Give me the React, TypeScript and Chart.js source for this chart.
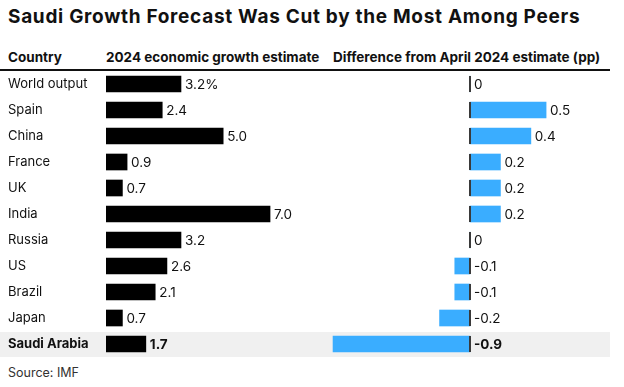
import React, { useEffect, useRef } from "react";
import { Chart, registerables } from "chart.js";

Chart.register(...registerables);

const countries = ["World output", "Spain", "China", "France", "UK", "India", "Russia", "US", "Brazil", "Japan", "Saudi Arabia"];
const growth2024 = [3.2, 2.4, 5.0, 0.9, 0.7, 7.0, 3.2, 2.6, 2.1, 0.7, 1.7];
const diffFromApril = [0, 0.5, 0.4, 0.2, 0.2, 0.2, 0, -0.1, -0.1, -0.2, -0.9];
const growthLabels = ["3.2%", "2.4", "5.0", "0.9", "0.7", "7.0", "3.2", "2.6", "2.1", "0.7", "1.7"];
const diffLabels = ["0", "0.5", "0.4", "0.2", "0.2", "0.2", "0", "-0.1", "-0.1", "-0.2", "-0.9"];

const FONT = "Inter, 'Liberation Sans', Arial, sans-serif";
const HIGHLIGHT = 10;
const BLUE = "#3aadff";

export default function App() {
  const leftRef = useRef<HTMLCanvasElement>(null);
  const rightRef = useRef<HTMLCanvasElement>(null);

  useEffect(() => {
    const leftLabels = {
      id: "leftLabels",
      afterDatasetsDraw(chart: any) {
        const ctx = chart.ctx;
        const meta = chart.getDatasetMeta(0);
        ctx.save();
        ctx.textBaseline = "middle";
        ctx.textAlign = "left";
        ctx.fillStyle = "#111";
        meta.data.forEach((bar: any, i: number) => {
          ctx.font = `${i === HIGHLIGHT ? "bold " : ""}13.5px ${FONT}`;
          ctx.fillText(growthLabels[i], bar.x + 4, bar.y + 1);
        });
        ctx.restore();
      },
    };
    const rightLabels = {
      id: "rightLabels",
      afterDatasetsDraw(chart: any) {
        const ctx = chart.ctx;
        const meta = chart.getDatasetMeta(0);
        const zero = chart.scales.x.getPixelForValue(0);
        ctx.save();
        meta.data.forEach((bar: any, i: number) => {
          const h = bar.height;
          ctx.fillStyle = "#3a3a3a";
          ctx.fillRect(Math.round(zero) - 1, bar.y - h / 2, 2, h);
          ctx.textBaseline = "middle";
          ctx.textAlign = "left";
          ctx.fillStyle = "#111";
          ctx.font = `${i === HIGHLIGHT ? "bold " : ""}13.5px ${FONT}`;
          const x = Math.max(bar.x, zero) + 4;
          ctx.fillText(diffLabels[i], x, bar.y + 1);
        });
        ctx.restore();
      },
    };

    const left = new Chart(leftRef.current!, {
      type: "bar",
      data: {
        labels: countries,
        datasets: [
          {
            data: growth2024,
            backgroundColor: "#000",
            barThickness: 16,
            borderWidth: 0,
          },
        ],
      },
      options: {
        indexAxis: "y",
        animation: false,
        responsive: false,
        maintainAspectRatio: false,
        layout: { padding: 0 },
        plugins: { legend: { display: false }, tooltip: { enabled: false } },
        scales: {
          x: { display: false, min: 0, max: 9.9 },
          y: {
            grid: { display: false },
            border: { display: false },
            afterFit: (s: any) => {
              s.width = 98;
              s.paddingTop = 0;
              s.paddingBottom = 0;
            },
            ticks: {
              crossAlign: "far",
              padding: 0,
              color: "#111",
              font: (c: any) => ({
                family: FONT,
                size: 13,
                weight: c.index === HIGHLIGHT ? "bold" : "normal",
              }),
            },
          },
        },
      },
      plugins: [leftLabels],
    } as any);

    const right = new Chart(rightRef.current!, {
      type: "bar",
      data: {
        labels: countries,
        datasets: [
          {
            data: diffFromApril,
            backgroundColor: BLUE,
            barThickness: 16,
            borderWidth: 0,
          },
        ],
      },
      options: {
        indexAxis: "y",
        animation: false,
        responsive: false,
        maintainAspectRatio: false,
        layout: { padding: 0 },
        plugins: { legend: { display: false }, tooltip: { enabled: false } },
        scales: {
          x: { display: false, min: -0.92, max: 0.92 },
          y: { display: false },
        },
      },
      plugins: [rightLabels],
    } as any);

    return () => {
      left.destroy();
      right.destroy();
    };
  }, []);

  const abs = (s: React.CSSProperties): React.CSSProperties => ({ position: "absolute", ...s });

  return (
    <div
      style={{
        position: "fixed",
        left: 0,
        top: 0,
        width: 624,
        height: 387,
        background: "#fff",
        fontFamily: FONT,
        color: "#111",
        overflow: "hidden",
      }}
    >
      <div style={abs({ left: 8, top: 5, fontSize: 19, fontWeight: 700, whiteSpace: "nowrap", letterSpacing: 0.7 })}>
        Saudi Growth Forecast Was Cut by the Most Among Peers
      </div>
      <div style={abs({ left: 8, top: 49, fontSize: 13.5, fontWeight: 700 })}>Country</div>
      <div style={abs({ left: 106, top: 49, fontSize: 13.5, fontWeight: 700, whiteSpace: "nowrap" })}>
        2024 economic growth estimate
      </div>
      <div style={abs({ left: 333, top: 49, fontSize: 13.5, fontWeight: 700, whiteSpace: "nowrap" })}>
        Difference from April 2024 estimate (pp)
      </div>
      <div style={abs({ left: 0, top: 69, width: 610, height: 2, background: "#111" })} />
      <div style={abs({ left: 0, top: 332, width: 610, height: 25, background: "#f0f0f0" })} />
      <canvas ref={leftRef} width={330} height={286} style={abs({ left: 8, top: 71, width: 330, height: 286 })} />
      <canvas ref={rightRef} width={280} height={286} style={abs({ left: 330, top: 71, width: 280, height: 286 })} />
      <div style={abs({ left: 8, top: 365, fontSize: 12.5, color: "#333" })}>Source: IMF</div>
    </div>
  );
}
